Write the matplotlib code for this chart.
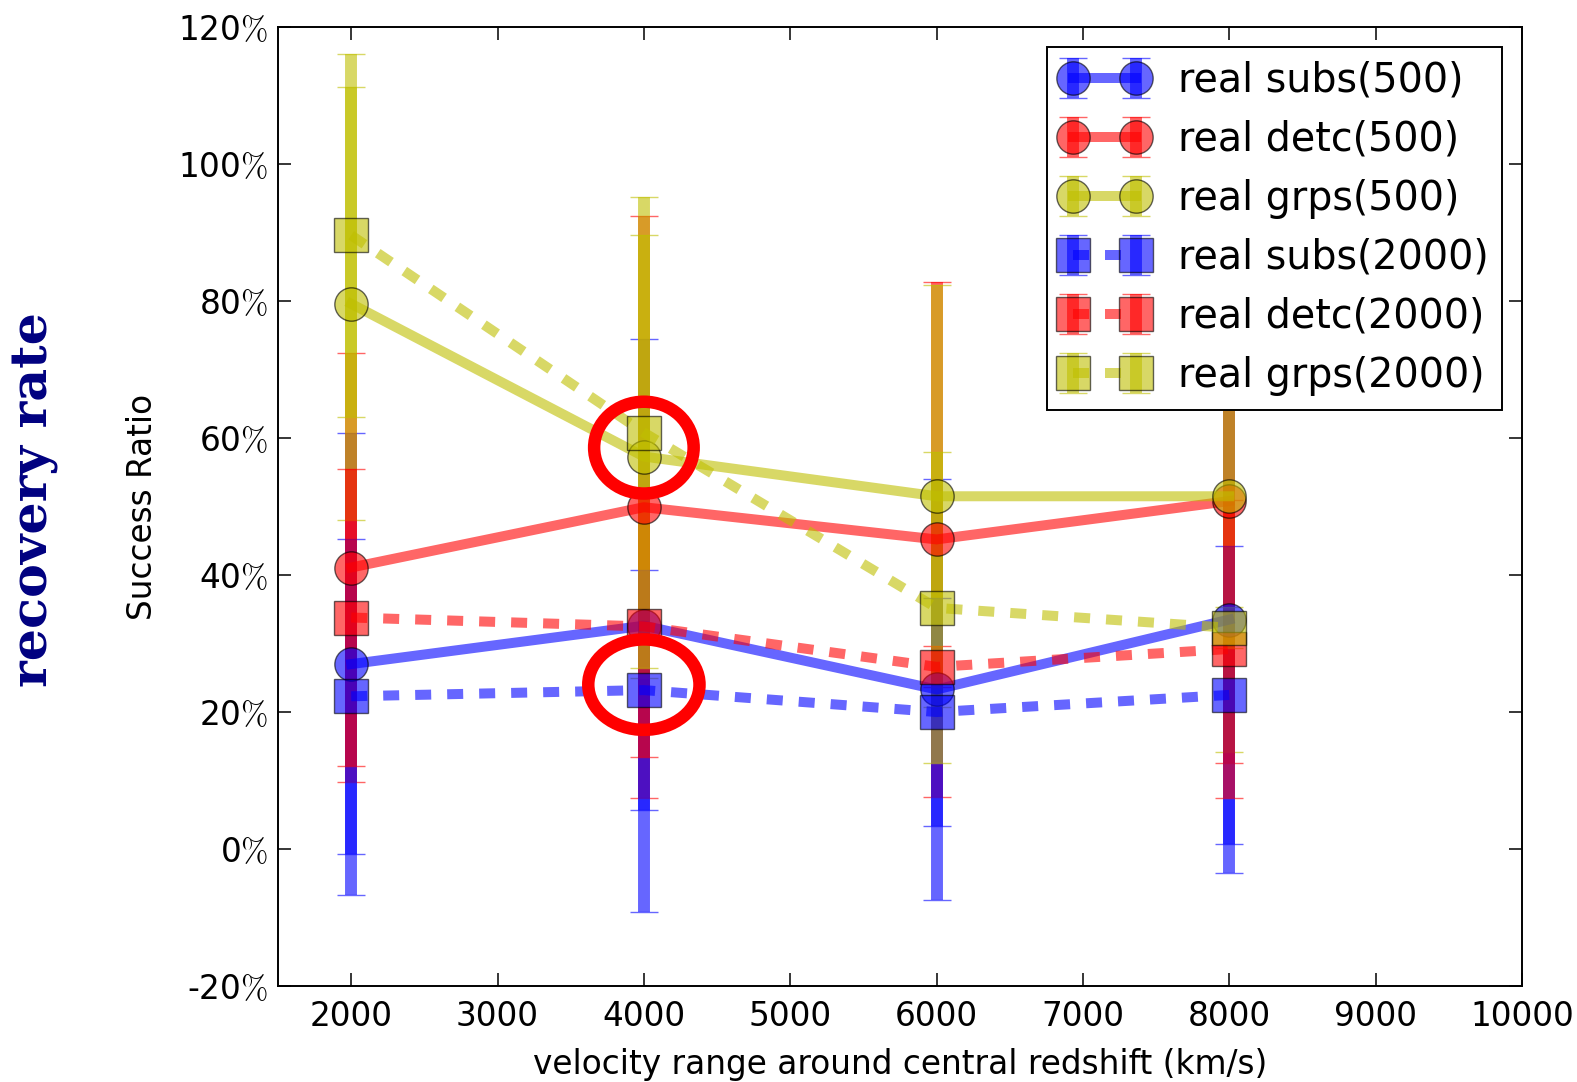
import matplotlib
matplotlib.use("Agg")
import matplotlib.pyplot as plt
from matplotlib.patches import Ellipse

# velocity windows (km/s)
velocity = [2000, 4000, 6000, 8000]

# success ratios in percent, linking length 500
subs_500 = [27.0, 32.6, 23.3, 33.5]
detc_500 = [41.1, 49.9, 45.2, 50.8]
grps_500 = [79.6, 57.3, 51.5, 51.5]
subs_500_err = [33.7, 41.8, 30.7, 37.0]
detc_500_err = [31.3, 42.5, 37.6, 38.2]
grps_500_err = [31.6, 32.3, 30.8, 37.3]

# success ratios in percent, linking length 2000
subs_2000 = [22.3, 23.2, 20.0, 22.5]
detc_2000 = [33.8, 32.5, 26.6, 29.2]
grps_2000 = [89.6, 60.8, 35.2, 32.3]
subs_2000_err = [23.0, 17.5, 16.6, 21.8]
detc_2000_err = [21.7, 19.1, 3.0, 21.8]
grps_2000_err = [26.5, 34.4, 22.7, 3.0]

labels = ["real subs(500)", "real detc(500)", "real grps(500)",
          "real subs(2000)", "real detc(2000)", "real grps(2000)"]

x_ticks = [2000, 3000, 4000, 5000, 6000, 7000, 8000, 9000, 10000]
y_ticks = [-20, 0, 20, 40, 60, 80, 100, 120]

plt.rcParams["mathtext.fontset"] = "cm"
plt.rcParams["font.family"] = "DejaVu Sans"

fig = plt.figure(figsize=(15.77, 10.82), dpi=100)
ax = fig.add_axes([0.1763, 0.0887, 0.9651 - 0.1763, 0.975 - 0.0887])

series = [
    (subs_500, subs_500_err, "o", "-", "b"),
    (detc_500, detc_500_err, "o", "-", "r"),
    (grps_500, grps_500_err, "o", "-", "y"),
    (subs_2000, subs_2000_err, "s", "--", "b"),
    (detc_2000, detc_2000_err, "s", "--", "r"),
    (grps_2000, grps_2000_err, "s", "--", "y"),
]
colors = {"b": (0, 0, 1), "r": (1, 0, 0), "y": (0.75, 0.75, 0)}

for (vals, errs, mk, ls, c), lab in zip(series, labels):
    col = colors[c]
    cont = ax.errorbar(velocity, vals, yerr=errs, marker=mk, linestyle=ls,
                       color=col, ecolor=col, alpha=0.6, lw=7.2, ms=24,
                       mec="k", mew=1.0, elinewidth=8.6, capsize=10.4,
                       capthick=0.8, label=lab)
    if ls == "--":
        cont[0].set_dashes((1.6, 1.6))

ax.set_xlim(1500, 10000)
ax.set_ylim(-20, 120)
ax.set_xticks(x_ticks)
ax.set_xticklabels([str(t) for t in x_ticks])
ax.set_yticks(y_ticks)
ax.set_yticklabels([f"{t}$\\%$" for t in y_ticks])
ax.tick_params(direction="in", length=9.5, width=1.1, labelsize=23.6,
               top=True, right=True, pad=7)
ax.tick_params(axis="x", pad=10)
for sp in ax.spines.values():
    sp.set_linewidth(1.4)

ax.set_xlabel("velocity range around central redshift (km/s)", fontsize=23.6,
              labelpad=11)
ax.set_ylabel("Success Ratio", fontsize=23.6, labelpad=14)

leg = ax.legend(loc="upper right", numpoints=2, fontsize=28.5, fancybox=False,
                framealpha=1, edgecolor="k", handlelength=2.2,
                handletextpad=0.75, borderpad=0.35, labelspacing=0.48,
                borderaxespad=0.5)
leg.get_frame().set_linewidth(1.4)

# highlight the two points at 4000 km/s
ax.add_patch(Ellipse((4000, 58.6), width=680, height=13.4, fill=False,
                     ec="red", lw=9, zorder=10))
ax.add_patch(Ellipse((4000, 24.0), width=760, height=13.2, fill=False,
                     ec="red", lw=9, zorder=10))

fig.text(35 / 1577, 1 - 500 / 1082, "recovery rate", rotation=90,
         ha="center", va="center", color="#000080", fontsize=36.5,
         fontweight="bold", family="DejaVu Serif")

fig.savefig("out.png", dpi=100, facecolor="white")
